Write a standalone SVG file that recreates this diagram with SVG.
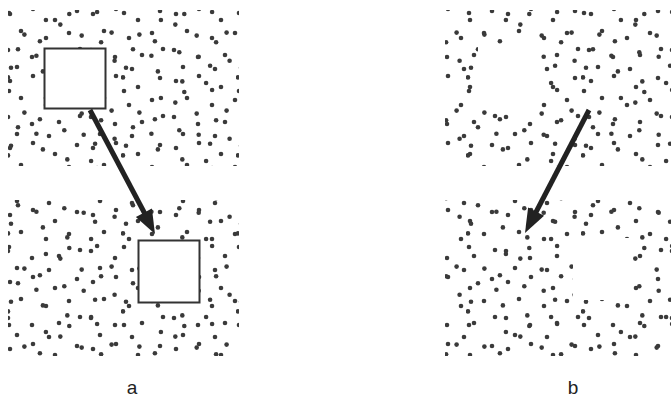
<svg xmlns="http://www.w3.org/2000/svg" width="671" height="405" viewBox="0 0 671 405">
<style>
.box{fill:#fff;stroke:#333;stroke-width:2}
.hole{fill:#fff}
.shaft{stroke:#222;stroke-width:5;stroke-linecap:butt}
.head{fill:#222}
.lbl{font-family:"Liberation Sans",Arial,sans-serif;font-size:19px;fill:#222}
.d circle{r:2.3px}
</style>
<defs>
<pattern id="dots1" patternUnits="userSpaceOnUse" x="6" y="8" width="115" height="78">
<g fill="#3a3a3a">
<circle cx="3" cy="5" r="2.3"/><circle cx="39.9" cy="12" r="2.3"/><circle cx="63.3" cy="6" r="2.3"/><circle cx="91.1" cy="4" r="2.3"/>
<circle cx="18.4" cy="26.6" r="2.3"/><circle cx="54.3" cy="16.6" r="2.3"/><circle cx="75.7" cy="27.6" r="2.3"/><circle cx="105.6" cy="24.6" r="2.3"/>
<circle cx="12" cy="41.2" r="2.3"/><circle cx="33.9" cy="33.2" r="2.3"/><circle cx="58.3" cy="44.2" r="2.3"/><circle cx="95.1" cy="34.2" r="2.3"/>
<circle cx="30.4" cy="47.8" r="2.3"/><circle cx="77.7" cy="48.8" r="2.3"/><circle cx="108.6" cy="52.8" r="2.3"/><circle cx="5" cy="59.8" r="2.3"/>
<circle cx="89.1" cy="57.8" r="2.3"/><circle cx="2" cy="69.4" r="2.3"/><circle cx="36.9" cy="63.4" r="2.3"/><circle cx="61.3" cy="73.4" r="2.3"/><circle cx="85.1" cy="75" r="2.3"/>
</g>
</pattern>
<pattern id="dots2" patternUnits="userSpaceOnUse" x="3" y="5" width="83" height="67">
<g fill="#3a3a3a">
<circle cx="7" cy="9" r="2.3"/><circle cx="30" cy="4" r="2.3"/><circle cx="52" cy="15" r="2.3"/><circle cx="74" cy="6" r="2.3"/>
<circle cx="18" cy="26" r="2.3"/><circle cx="43" cy="33" r="2.3"/><circle cx="66" cy="28" r="2.3"/><circle cx="5" cy="45" r="2.3"/>
<circle cx="29" cy="52" r="2.3"/><circle cx="56" cy="50" r="2.3"/><circle cx="77" cy="44" r="2.3"/><circle cx="14" cy="62" r="2.3"/><circle cx="46" cy="64" r="2.3"/>
</g>
</pattern>
</defs>
<rect width="671" height="405" fill="#fff"/>
<g id="panel-a">
<rect id="field-a-top" x="8" y="10" width="231" height="156" fill="url(#dots1)"/>
<rect x="8" y="10" width="231" height="156" fill="url(#dots2)"/>
<rect id="field-a-bottom" x="8" y="200" width="231" height="156" fill="url(#dots1)"/>
<rect x="8" y="200" width="231" height="156" fill="url(#dots2)"/>
<rect id="box-a-top" class="box" x="44.5" y="48.5" width="61" height="60"/>
<rect id="box-a-bottom" class="box" x="138.5" y="240.5" width="61" height="62"/>
</g>
<g id="panel-b">
<rect id="field-b-top" x="445" y="10" width="226" height="156" fill="url(#dots1)"/>
<rect x="445" y="10" width="226" height="156" fill="url(#dots2)"/>
<rect id="field-b-bottom" x="445" y="200" width="226" height="156" fill="url(#dots1)"/>
<rect x="445" y="200" width="226" height="156" fill="url(#dots2)"/>
<rect class="hole" x="478" y="45" width="62" height="62"/>
<rect class="hole" x="573" y="238" width="60" height="62"/>
</g>
<g id="connectors">
<line class="shaft" x1="90" y1="110" x2="145" y2="214"/>
<polygon class="head" points="155,234 151.9,208.5 135.9,216.9"/>
<line class="shaft" x1="589" y1="110" x2="535" y2="214"/>
<polygon class="head" points="525,233 544.1,215.8 528.1,207.6"/>
</g>
<text class="lbl" x="132" y="394" text-anchor="middle">a</text>
<text class="lbl" x="573" y="394" text-anchor="middle">b</text>
</svg>
